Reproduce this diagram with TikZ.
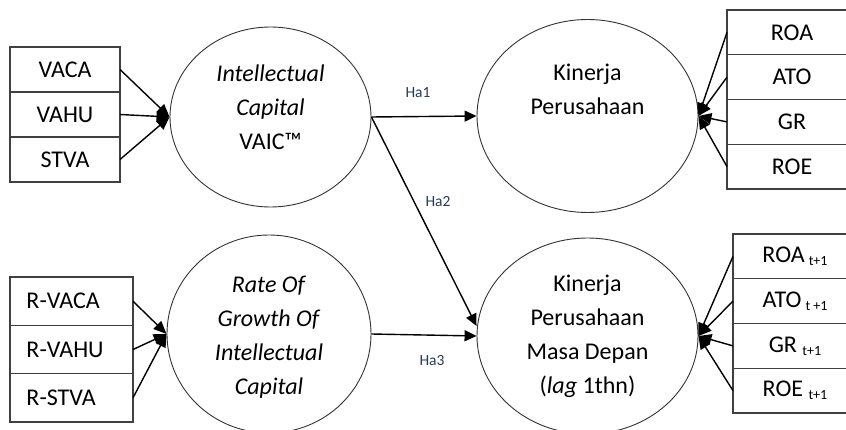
\documentclass[tikz,border=0pt]{standalone}
\usepackage{fontspec}
\setmainfont{Carlito}
\usetikzlibrary{arrows.meta,positioning,shapes.geometric}

\newcommand{\tsub}[1]{{\fontsize{14}{14}\selectfont\raisebox{-3pt}{#1}}}

\tikzset{
  indbox/.style={draw=black!75, line width=1.1pt, inner sep=0pt, outer sep=0pt,
    minimum height=45pt, font=\fontsize{24}{28}\selectfont},
  latent/.style={draw=black!80, line width=0.9pt, ellipse, inner sep=0pt},
  ctext/.style={align=center, font=\fontsize{24}{34}\selectfont},
  link/.style={line width=1.4pt, ->},
  hlabel/.style={font=\fontsize{15.5}{18}\selectfont, text=hcol}
}
\definecolor{hcol}{RGB}{40,58,90}

\begin{document}
\begin{tikzpicture}[x=1pt, y=-1pt, >={Triangle[length=13pt,width=11pt]}]
  \useasboundingbox (0,0) rectangle (846,430);
  \clip (0,0) rectangle (846,430);

  % Indicators of VAIC
  \node[indbox, minimum width=110pt] (vaca) at (65,69.5) {VACA};
  \node[indbox, minimum width=110pt, below=0pt of vaca] (vahu) {VAHU};
  \node[indbox, minimum width=110pt, below=0pt of vahu] (stva) {STVA};

  % Indicators of growth rate
  \node[indbox, minimum width=123pt, minimum height=48.3pt, text width=90pt, align=left] (rvaca) at (71.5,301.2) {R-VACA};
  \node[indbox, minimum width=123pt, minimum height=48.3pt, text width=90pt, align=left, below=0pt of rvaca] (rvahu) {R-VAHU};
  \node[indbox, minimum width=123pt, minimum height=48.3pt, text width=90pt, align=left, below=0pt of rvahu] (rstva) {R-STVA};

  % Indicators of performance
  \node[indbox, minimum width=130pt, minimum height=44.75pt] (roa) at (792,32.4) {ROA};
  \node[indbox, minimum width=130pt, minimum height=44.75pt, below=0pt of roa] (ato) {ATO};
  \node[indbox, minimum width=130pt, minimum height=44.75pt, below=0pt of ato] (gr) {GR};
  \node[indbox, minimum width=130pt, minimum height=44.75pt, below=0pt of gr] (roe) {ROE};

  % Indicators of future performance
  \node[indbox, minimum width=124pt, minimum height=44.75pt] (roaf) at (795,256.4) {ROA\,\tsub{t+1}};
  \node[indbox, minimum width=124pt, minimum height=44.75pt, below=0pt of roaf] (atof) {ATO\,\tsub{t +1}};
  \node[indbox, minimum width=124pt, minimum height=44.75pt, below=0pt of atof] (grf) {GR \tsub{t+1}};
  \node[indbox, minimum width=124pt, minimum height=44.75pt, below=0pt of grf] (roef) {ROE \tsub{t+1}};

  % Constructs
  \node[latent, minimum width=201pt, minimum height=180pt] (ic) at (270.5,117) {};
  \node[latent, minimum width=221pt, minimum height=193pt] (kp) at (587.5,116) {};
  \node[latent, minimum width=204pt, minimum height=198pt] (roic) at (269,334) {};
  \node[latent, minimum width=221pt, minimum height=196pt] (kpd) at (587.5,336) {};

  \node[ctext] (ict) at ([yshift=10pt]ic.center) {\textit{Intellectual}\\\textit{Capital}\\VAIC™};
  \node[ctext] (kpt) at ([yshift=26.5pt]kp.center) {Kinerja\\Perusahaan};
  \node[ctext] (roict) at ([yshift=-3.5pt]roic.center) {\textit{Rate Of}\\\textit{Growth Of}\\\textit{Intellectual}\\\textit{Capital}};
  \node[ctext] (kpdt) at ([yshift=-0.5pt]kpd.center) {Kinerja\\Perusahaan\\Masa Depan\\(\textit{lag} 1thn)};

  % Measurement arrows
  \foreach \s in {vaca,vahu,stva} \draw[link] (\s.east) -- (ic.west);
  \foreach \s in {rvaca,rvahu,rstva} \draw[link] (\s.east) -- (roic.west);
  \foreach \s in {roa,ato,gr,roe} \draw[link] (\s.west) -- (kp.east);
  \foreach \s in {roaf,atof,grf,roef} \draw[link] (\s.west) -- (kpd.east);

  % Hypotheses
  \draw[link, >={Triangle[length=12pt,width=11pt]}] (ic.east) -- (kp.west);
  \draw[link, >={Triangle[length=12pt,width=11pt]}] (ic.east) -- ([yshift=10pt]kpd.west);
  \draw[link, >={Triangle[length=12pt,width=11pt]}] (roic.east) -- (kpd.west);
  \node[hlabel] (ha1) at (418,93) {Ha1};
  \node[hlabel] (ha2) at (438,202) {Ha2};
  \node[hlabel] (ha3) at (432,361) {Ha3};
\end{tikzpicture}
\end{document}
